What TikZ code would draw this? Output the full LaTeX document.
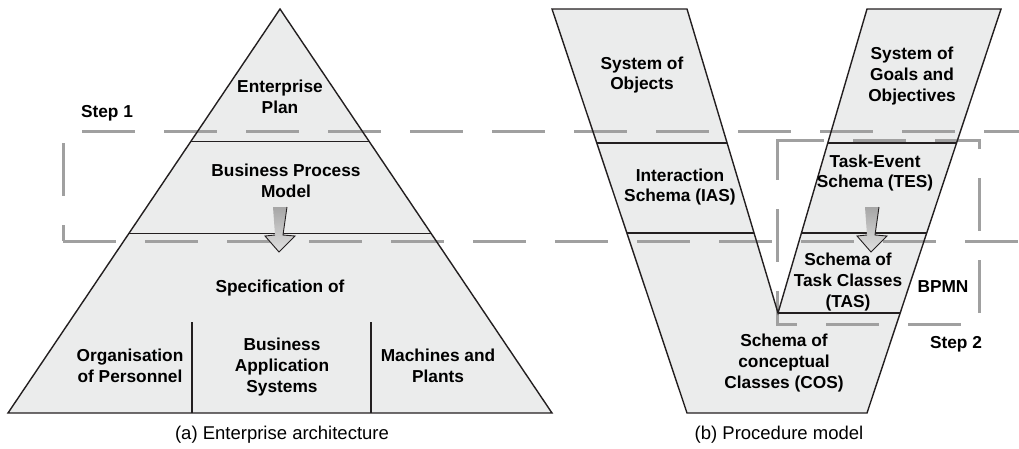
\documentclass[tikz,border=0pt]{standalone}
\usepackage{fontspec}
\setmainfont{Liberation Sans}
\usepackage{xcolor}
\usetikzlibrary{calc}
\definecolor{areagray}{RGB}{235,236,236}
\definecolor{dashgray}{RGB}{160,160,160}
\definecolor{inkblack}{RGB}{35,31,32}

\begin{document}
\begin{tikzpicture}[x=1pt, y=-1pt,
    lbl/.style={font=\fontsize{17.3}{20.7}\selectfont\bfseries, align=center, inner sep=0pt},
    captxt/.style={font=\fontsize{18.5}{22}\selectfont, inner sep=0pt},
    greyfill/.style={fill=areagray},
    outl/.style={draw=inkblack, line width=1.4pt},
    dashbox/.style={draw=dashgray, line width=3pt, dash pattern=on 53pt off 29pt}]
    \useasboundingbox (0,0) rectangle (1019,448);

    % pyramid and V, filled first
    \fill[greyfill] (280,9) -- (552,413) -- (8,413) -- cycle;
    \fill[greyfill] (552,9) -- (687,9) -- (778,313) -- (867,9) -- (1001,9) -- (867,413) -- (687,413) -- cycle;

    % step boxes
    \draw[dashbox] (82,131) -- (1030,131);
    \draw[dashbox] (63,143) -- (63,241);
    \draw[dashbox] (63,241) -- (1030,241);
    \draw[dashbox] (790,140) -| (777,324) -| (979,140) -- cycle;

    % outlines
    \draw[outl, line join=miter] (280,9) -- (552,413) -- (8,413) -- cycle;
    \draw[outl] (190.7,141.7) -- (369.3,141.7);
    \draw[outl] (129,233.3) -- (431,233.3);
    \draw[outl] (192,322) -- (192,413);
    \draw[outl] (371,322) -- (371,413);

    \draw[outl, line join=miter] (552,9) -- (687,9) -- (778,313) -- (867,9) -- (1001,9) -- (867,413) -- (687,413) -- cycle;
    \draw[outl] (596.8,143) -- (727.1,143);
    \draw[outl] (626.8,233) -- (754,233);
    \draw[outl] (827.8,143) -- (956.6,143);
    \draw[outl] (801.4,233) -- (926.7,233);
    \draw[outl] (778,313) -- (900.2,313);

    % block arrows
    \foreach \x in {0,592} {
        \shade[top color=black!35, bottom color=black!12]
            (273+\x,207) -- (287+\x,207) -- (283+\x,235) -- (295+\x,236) -- (279+\x,252)
            -- (265+\x,236) -- (275+\x,235) -- cycle;
        \draw[inkblack, line width=0.9pt, line join=miter]
            (287+\x,207) -- (283+\x,235) -- (295+\x,236) -- (279+\x,252)
            -- (265+\x,236) -- (275+\x,235);
    }

    % (a) enterprise architecture
    \node[lbl] (plan) at (280,97) {Enterprise\\Plan};
    \node[lbl] (bpm) at (286,181) {Business Process\\Model};
    \node[lbl] (spec) at (280,288) {Specification of};
    \node[lbl] (orga) at (130,366) {Organisation\\of Personnel};
    \node[lbl] (bas) at (282,367) {Business\\Application\\Systems};
    \node[lbl] (mach) at (438,366) {Machines and\\Plants};
    \node[lbl] (step1) at (107,113) {Step 1};
    \node[captxt] (capa) at (282,435) {(a) Enterprise architecture};

    % (b) procedure model
    \node[lbl] (objs) at (642,75) {System of\\Objects};
    \node[lbl] (ias) at (680,187) {Interaction\\Schema (IAS)};
    \node[lbl] (goals) at (912,76) {System of\\Goals and\\Objectives};
    \node[lbl] (tes) at (875,173) {Task-Event\\Schema (TES)};
    \node[lbl] (tas) at (848,282) {Schema of\\Task Classes\\(TAS)};
    \node[lbl] (cos) at (784,363) {Schema of\\conceptual\\Classes (COS)};
    \node[lbl] (bpmn) at (943,287) {BPMN};
    \node[lbl] (step2) at (956,344) {Step 2};
    \node[captxt] (capb) at (779,435) {(b) Procedure model};
\end{tikzpicture}
\end{document}
